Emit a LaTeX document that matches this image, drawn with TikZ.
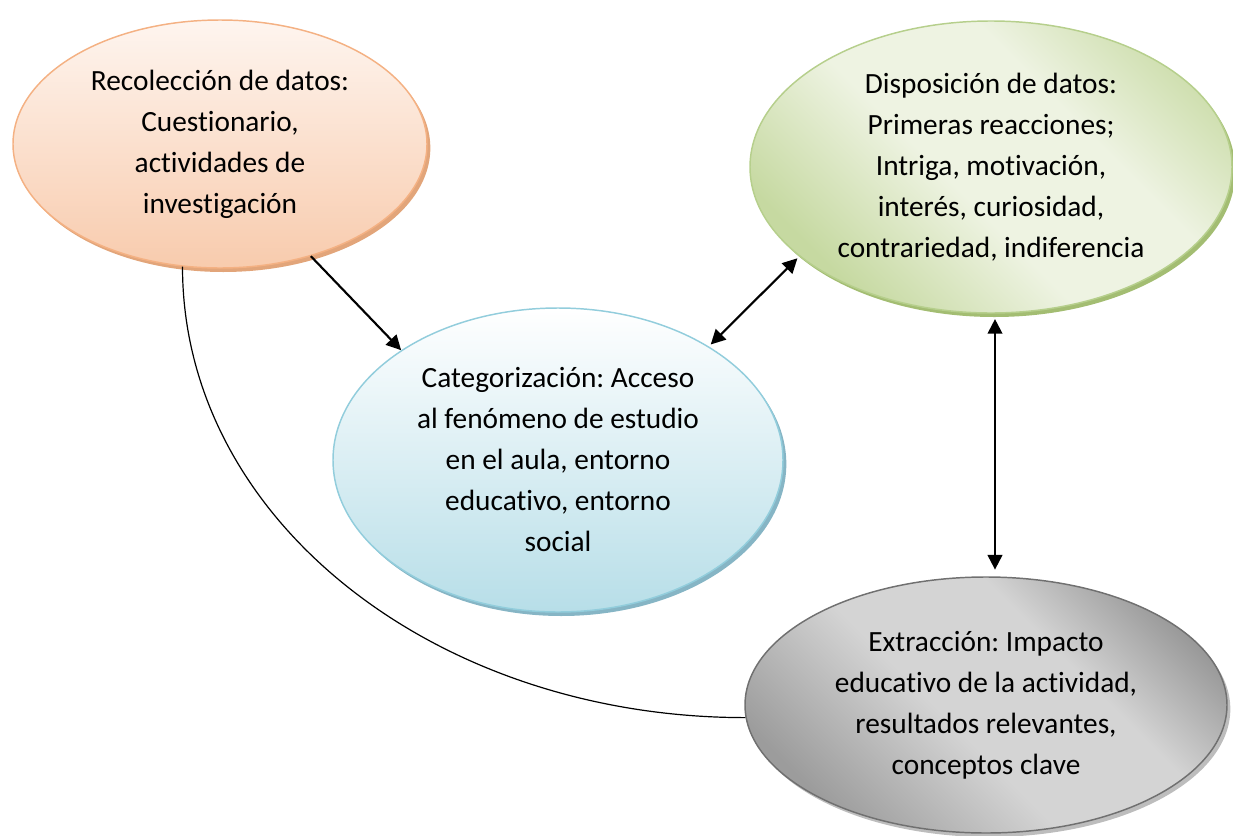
\documentclass[tikz,border=0pt]{standalone}
\usepackage{fontspec}
\setmainfont{Carlito}[Ligatures=NoCommon]
\usetikzlibrary{shapes.geometric,arrows.meta,calc}
\definecolor{oTop}{HTML}{FEF5EF}
\definecolor{oBot}{HTML}{F8CBAD}
\definecolor{oLine}{HTML}{F4B183}
\definecolor{oShad}{HTML}{E2A57A}
\definecolor{gD}{HTML}{C6D9A1}
\definecolor{gL}{HTML}{EEF3E2}
\definecolor{gLine}{HTML}{B6CF8C}
\definecolor{gShad}{HTML}{A3BD72}
\definecolor{bTop}{HTML}{FFFFFF}
\definecolor{bBot}{HTML}{B7DEE8}
\definecolor{bLine}{HTML}{92CDDC}
\definecolor{bShad}{HTML}{86B5C5}
\definecolor{kA}{HTML}{9C9C9C}
\definecolor{kL}{HTML}{D4D4D4}
\definecolor{kD}{HTML}{808080}
\definecolor{kLine}{HTML}{707070}
\definecolor{kShad}{HTML}{BDBDBD}
\pgfdeclarehorizontalshading{greenband}{100bp}{color(0bp)=(gD); color(26bp)=(gD); color(45bp)=(gL); color(62bp)=(gL); color(80bp)=(gD); color(100bp)=(gD)}
\pgfdeclarehorizontalshading{greyband}{100bp}{color(0bp)=(kA); color(25bp)=(kA); color(45bp)=(kL); color(62bp)=(kL); color(82bp)=(kD); color(100bp)=(kD)}
\begin{document}
\frenchspacing
\begin{tikzpicture}[x=0.75pt,y=-0.75pt,
  blob/.style={ellipse, inner sep=0pt, line width=1.1pt},
  shad/.style={preaction={fill=#1, transform canvas={shift={(2.5pt,-3pt)}}}},
  txt/.style={align=center, font=\fontsize{22}{30.75}\selectfont, inner sep=0pt},
  twoway/.style={line width=1.6pt, {Triangle[length=11pt,width=11pt]}-{Triangle[length=11pt,width=11pt]}},
  oneway/.style={line width=1.6pt, -{Triangle[length=11pt,width=11pt]}},
  thin/.style={line width=0.9pt}]
\useasboundingbox (0,0) rectangle (1233,836);

\node[blob, shad=oShad, draw=oLine, top color=oTop, bottom color=oBot,
      minimum width=310.5pt, minimum height=186pt] (rec) at (220,144) {};
\node[blob, shad=gShad, draw=gLine, shading=greenband, shading angle=45,
      minimum width=361.5pt, minimum height=219pt] (dis) at (991,167) {};
\node[blob, shad=bShad, draw=bLine, top color=bTop, bottom color=bBot,
      minimum width=337.5pt, minimum height=228pt] (cat) at (558,460) {};
\node[blob, shad=kShad, draw=kLine, shading=greyband, shading angle=45,
      minimum width=361.5pt, minimum height=192pt] (ext) at (986,705) {};

\node[txt] (recT) at (rec.center) {Recolección de datos:\\Cuestionario,\\actividades de\\investigación};
\node[txt] (disT) at (dis.center) {Disposición de datos:\\Primeras reacciones;\\Intriga, motivación,\\interés, curiosidad,\\contrariedad, indiferencia};
\node[txt] (catT) at (cat.center) {Categorización: Acceso\\al fenómeno de estudio\\en el aula, entorno\\educativo, entorno\\social};
\node[txt] (extT) at (ext.center) {Extracción: Impacto\\educativo de la actividad,\\resultados relevantes,\\conceptos clave};

\draw[oneway] (rec.-51.3) -- (cat.145.8);
\draw[twoway, shorten <=2pt, shorten >=2pt] (cat.37) -- (dis.205.7);
\draw[twoway, shorten <=4pt, shorten >=5pt] ([xshift=3pt]dis.south) -- ([xshift=3pt]dis.south |- ext.north);
\draw[thin] (rec.253) .. controls ($(rec.253)+(0,253)$) and ($(ext.183.5)+(-310,0)$) .. (ext.183.5);
\end{tikzpicture}
\end{document}
